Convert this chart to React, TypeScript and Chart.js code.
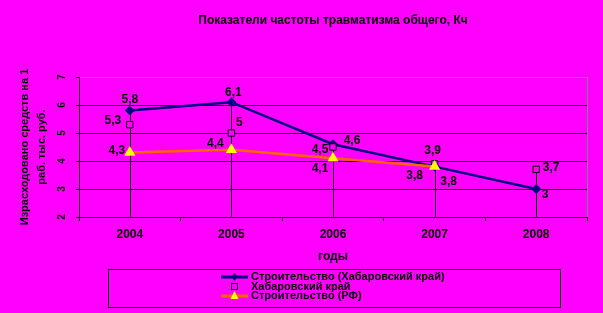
import React, { useEffect, useRef } from 'react';
import { Chart, registerables } from 'chart.js';
Chart.register(...registerables);

const years = ['2004', '2005', '2006', '2007', '2008'];
const stroiKhab = [5.8, 6.1, 4.6, 3.8, 3];
const khabKrai = [5.3, 5, 4.5, 3.9, 3.7];
const stroiRF = [4.3, 4.4, 4.1, 3.8, null];
const yTicks = [2, 3, 4, 5, 6, 7];
const seriesNames = ['Строительство (Хабаровский край)', 'Хабаровский край', 'Строительство (РФ)'];
const titleText = 'Показатели частоты травматизма общего, Кч';
const yTitleLines = ['Израсходовано средств на 1', 'раб. тыс. руб.'];
const xTitleText = 'годы';

// label placement offsets (style only)
const labelOffsets: number[][][] = [
  [[0, -11], [2, -10], [19, -4], [14, 15], [9, 6]],
  [[-17, -4], [8, -10], [-13, 3], [-2, -13], [15, -2]],
  [[-13, -2], [-16, -6], [-13, 10], [-20, 9]],
];

const FONT = "'Liberation Sans', Arial, sans-serif";
const MAGENTA = '#FF00FF';
const NAVY = '#000080';
const ORANGE = '#FF6600';
const YELLOW = '#FFFF00';

const fmt = (v: number) => String(v).replace('.', ',');

const bgPlugin = {
  id: 'bgPlugin',
  beforeDraw(c: any) {
    const ctx = c.ctx;
    ctx.save();
    ctx.fillStyle = MAGENTA;
    ctx.fillRect(0, 0, c.width, c.height);
    ctx.restore();
  },
};

const dropPlugin = {
  id: 'dropPlugin',
  beforeDatasetsDraw(c: any) {
    const ctx = c.ctx;
    const xs = c.scales.x;
    const ys = c.scales.y;
    const area = c.chartArea;
    ctx.save();
    ctx.strokeStyle = '#000';
    ctx.lineWidth = 1;
    years.forEach((_, i) => {
      const vals = [stroiKhab[i], khabKrai[i], stroiRF[i]].filter((v) => v != null) as number[];
      const mx = Math.max(...vals);
      const x = Math.round(xs.getPixelForValue(i)) + 0.5;
      ctx.beginPath();
      ctx.moveTo(x, ys.getPixelForValue(mx));
      ctx.lineTo(x, area.bottom);
      ctx.stroke();
    });
    // right border of plot area
    ctx.strokeStyle = '#808080';
    ctx.beginPath();
    ctx.moveTo(Math.round(area.right) + 0.5, area.top);
    ctx.lineTo(Math.round(area.right) + 0.5, area.bottom);
    ctx.stroke();
    ctx.restore();
  },
};

const textPlugin = {
  id: 'textPlugin',
  afterDraw(c: any) {
    const ctx = c.ctx;
    const area = c.chartArea;
    const ys = c.scales.y;
    const cx = (area.left + area.right) / 2;
    const cy = (area.top + area.bottom) / 2;
    ctx.save();
    ctx.fillStyle = '#000';
    ctx.textAlign = 'center';
    ctx.textBaseline = 'middle';
    // title
    ctx.font = `bold 12px ${FONT}`;
    ctx.fillText(titleText, cx, 21);
    // x title
    ctx.fillText(xTitleText, cx, 257);
    // y tick labels rotated
    ctx.font = `bold 10px ${FONT}`;
    yTicks.forEach((v) => {
      ctx.save();
      ctx.translate(62, ys.getPixelForValue(v));
      ctx.rotate(-Math.PI / 2);
      ctx.fillText(String(v), 0, 0);
      ctx.restore();
    });
    // y title
    ctx.font = `bold 11px ${FONT}`;
    const lx = [25, 42];
    yTitleLines.forEach((t, i) => {
      ctx.save();
      ctx.translate(lx[i], cy);
      ctx.rotate(-Math.PI / 2);
      ctx.fillText(t, 0, 0);
      ctx.restore();
    });
    // data labels
    ctx.font = `bold 12px ${FONT}`;
    const sets = [stroiKhab, khabKrai, stroiRF];
    sets.forEach((arr, di) => {
      const meta = c.getDatasetMeta(di);
      arr.forEach((v, i) => {
        if (v == null) return;
        const el = meta.data[i];
        const off = labelOffsets[di][i];
        ctx.fillText(fmt(v), el.x + off[0], el.y + off[1]);
      });
    });
    // legend
    ctx.strokeStyle = '#000';
    ctx.lineWidth = 1;
    ctx.strokeRect(108.5, 269.5, 452, 38);
    const rows = [277, 287, 296];
    const mx = 234.5;
    // row 0
    ctx.strokeStyle = NAVY;
    ctx.lineWidth = 3;
    ctx.beginPath();
    ctx.moveTo(221, rows[0]);
    ctx.lineTo(248, rows[0]);
    ctx.stroke();
    ctx.fillStyle = NAVY;
    ctx.beginPath();
    ctx.moveTo(mx, rows[0] - 4);
    ctx.lineTo(mx + 3, rows[0]);
    ctx.lineTo(mx, rows[0] + 4);
    ctx.lineTo(mx - 3, rows[0]);
    ctx.closePath();
    ctx.fill();
    // row 1
    ctx.strokeStyle = '#000';
    ctx.lineWidth = 1;
    ctx.strokeRect(Math.round(mx) - 3.5, rows[1] - 3.5, 6, 6);
    // row 2
    ctx.strokeStyle = ORANGE;
    ctx.lineWidth = 3;
    ctx.beginPath();
    ctx.moveTo(221, rows[2]);
    ctx.lineTo(248, rows[2]);
    ctx.stroke();
    ctx.fillStyle = YELLOW;
    ctx.beginPath();
    ctx.moveTo(mx, rows[2] - 5);
    ctx.lineTo(mx + 4, rows[2] + 3);
    ctx.lineTo(mx - 4, rows[2] + 3);
    ctx.closePath();
    ctx.fill();
    ctx.fillStyle = '#000';
    ctx.textAlign = 'left';
    ctx.font = `bold 11px ${FONT}`;
    seriesNames.forEach((n, i) => ctx.fillText(n, 251, rows[i]));
    ctx.restore();
  },
};

export default function App() {
  const ref = useRef<HTMLCanvasElement>(null);
  useEffect(() => {
    document.body.style.margin = '0';
    document.body.style.background = MAGENTA;
    const chart = new Chart(ref.current!, {
      type: 'line',
      data: {
        labels: years,
        datasets: [
          {
            label: seriesNames[0],
            data: stroiKhab,
            borderColor: NAVY,
            backgroundColor: NAVY,
            borderWidth: 2.5,
            pointStyle: 'rectRot',
            pointRadius: 5,
            pointBorderWidth: 0,
            tension: 0,
            order: 2,
          },
          {
            label: seriesNames[1],
            data: khabKrai,
            showLine: false,
            pointStyle: 'rect',
            pointRadius: 4.5,
            pointBorderColor: '#000',
            pointBackgroundColor: MAGENTA,
            pointBorderWidth: 1,
            borderColor: '#000',
            backgroundColor: MAGENTA,
            order: 1,
          },
          {
            label: seriesNames[2],
            data: stroiRF,
            borderColor: ORANGE,
            backgroundColor: YELLOW,
            borderWidth: 2.5,
            pointStyle: 'triangle',
            pointRadius: 6.5,
            pointBorderColor: YELLOW,
            pointBackgroundColor: YELLOW,
            pointBorderWidth: 0,
            tension: 0,
            order: 0,
          },
        ],
      },
      options: {
        responsive: false,
        animation: false,
        events: [],
        layout: { padding: { top: 77, left: 0, right: 16, bottom: 0 } },
        plugins: { legend: { display: false }, title: { display: false }, tooltip: { enabled: false } },
        scales: {
          x: {
            offset: true,
            afterFit: (s: any) => { s.height = 96; },
            grid: { display: true, drawOnChartArea: false, drawTicks: true, tickLength: 4, offset: true, color: '#000' },
            border: { color: '#000', width: 1 },
            ticks: { color: '#000', font: { family: FONT, size: 12, weight: 'bold' }, padding: 6, maxRotation: 0 },
          },
          y: {
            min: 2,
            max: 7,
            afterFit: (s: any) => { s.width = 79; },
            ticks: { display: false, stepSize: 1 },
            grid: {
              drawTicks: true,
              tickLength: 3,
              tickColor: '#000',
              color: (ctx: any) => (ctx.tick && ctx.tick.value === 7 ? '#808080' : '#000'),
            },
            border: { color: '#000', width: 1 },
          },
        },
      },
      plugins: [bgPlugin, dropPlugin, textPlugin],
    } as any);
    return () => chart.destroy();
  }, []);
  return (
    <div style={{ position: 'fixed', left: 0, top: 0, width: 603, height: 313, background: MAGENTA }}>
      <canvas ref={ref} width={603} height={313} />
    </div>
  );
}
